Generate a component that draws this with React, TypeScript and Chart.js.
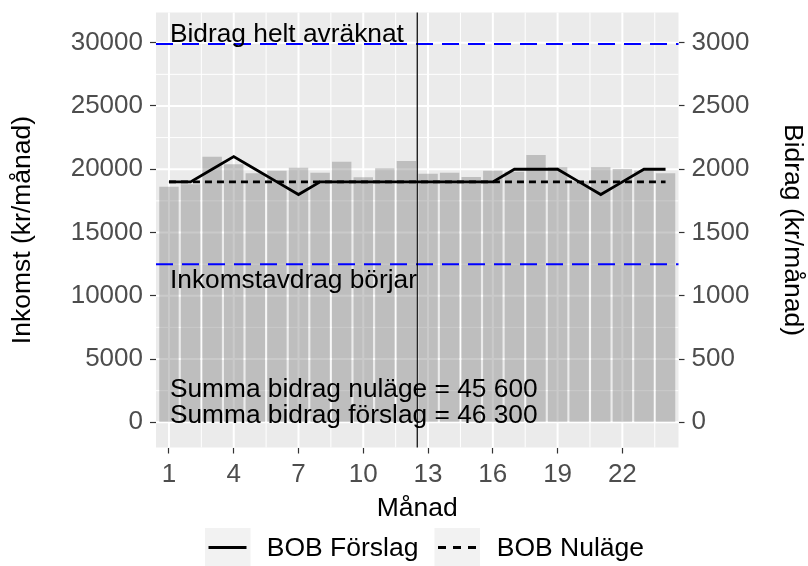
import { useEffect, useRef } from "react";
import { Chart, registerables } from "chart.js";

Chart.register(...registerables);

// ---- data ----
const months = [1, 2, 3, 4, 5, 6, 7, 8, 9, 10, 11, 12, 13, 14, 15, 16, 17, 18, 19, 20, 21, 22, 23, 24];
const income = [
  18620, 18810, 20990, 20390, 19680, 19880, 20120, 19730, 20600, 19360, 20070, 20650,
  19650, 19730, 19390, 19880, 19800, 21120, 20150, 19050, 20150, 20020, 19890, 19680,
];
const bobForslag = [
  1900, 1900, 2000, 2100, 2000, 1900, 1800, 1900, 1900, 1900, 1900, 1900,
  1900, 1900, 1900, 1900, 2000, 2000, 2000, 1900, 1800, 1900, 2000, 2000,
];
const bobNulage = [
  1900, 1900, 1900, 1900, 1900, 1900, 1900, 1900, 1900, 1900, 1900, 1900,
  1900, 1900, 1900, 1900, 1900, 1900, 1900, 1900, 1900, 1900, 1900, 1900,
];
const leftTicks = [0, 5000, 10000, 15000, 20000, 25000, 30000];
const rightTicks = [0, 500, 1000, 1500, 2000, 2500, 3000];
const monthTicks = [1, 4, 7, 10, 13, 16, 19, 22];
const thresholdUpper = 29900;
const thresholdLower = 12500;
const splitMonth = 12.5;
const labelUpper = "Bidrag helt avräknat";
const labelLower = "Inkomstavdrag börjar";
const sumLines = ["Summa bidrag nuläge = 45 600", "Summa bidrag förslag = 46 300"];
const legendLabels = ["BOB Förslag", "BOB Nuläge"];

const FONT = "'Liberation Sans', Arial, Helvetica, sans-serif";
const Y_MIN = -1992;
const Y_MAX = 32386;
const X_MIN = 0.4;
const X_MAX = 24.6;

function minorsOf(ticks: number[], lo: number, hi: number) {
  const step = ticks[1] - ticks[0];
  const out: number[] = [];
  for (const t of ticks) {
    for (const m of [t - step / 2, t + step / 2]) {
      if (m > lo && m < hi && !out.includes(m)) out.push(m);
    }
  }
  return out;
}

const panelPlugin = {
  id: "ggpanel",
  beforeDatasetsDraw(chart: any) {
    const { ctx, chartArea: a, scales } = chart;
    const x = scales.x;
    const y = scales.y;
    ctx.save();
    ctx.fillStyle = "#EBEBEB";
    ctx.fillRect(a.left, a.top, a.right - a.left, a.bottom - a.top);
    ctx.strokeStyle = "#FFFFFF";
    ctx.lineWidth = 1;
    for (const v of minorsOf(leftTicks, Y_MIN, Y_MAX)) {
      const p = y.getPixelForValue(v);
      ctx.beginPath(); ctx.moveTo(a.left, p); ctx.lineTo(a.right, p); ctx.stroke();
    }
    for (const v of minorsOf(monthTicks, X_MIN, X_MAX)) {
      const p = x.getPixelForValue(v);
      ctx.beginPath(); ctx.moveTo(p, a.top); ctx.lineTo(p, a.bottom); ctx.stroke();
    }
    ctx.lineWidth = 2;
    for (const v of leftTicks) {
      const p = y.getPixelForValue(v);
      ctx.beginPath(); ctx.moveTo(a.left, p); ctx.lineTo(a.right, p); ctx.stroke();
    }
    for (const v of monthTicks) {
      const p = x.getPixelForValue(v);
      ctx.beginPath(); ctx.moveTo(p, a.top); ctx.lineTo(p, a.bottom); ctx.stroke();
    }
    ctx.restore();
  },
  afterDatasetsDraw(chart: any) {
    const { ctx, chartArea: a, scales } = chart;
    const x = scales.x;
    const y = scales.y;
    ctx.save();
    ctx.strokeStyle = "#0000FF";
    ctx.lineWidth = 2;
    ctx.setLineDash([17, 9]);
    for (const v of [thresholdUpper, thresholdLower]) {
      const p = y.getPixelForValue(v);
      ctx.beginPath(); ctx.moveTo(a.left, p); ctx.lineTo(a.right, p); ctx.stroke();
    }
    ctx.setLineDash([]);
    ctx.strokeStyle = "#000000";
    ctx.lineWidth = 1.2;
    const vx = x.getPixelForValue(splitMonth);
    ctx.beginPath(); ctx.moveTo(vx, a.top); ctx.lineTo(vx, a.bottom); ctx.stroke();
    ctx.fillStyle = "#000000";
    ctx.font = `26.3px ${FONT}`;
    ctx.textAlign = "left";
    ctx.textBaseline = "alphabetic";
    const tx = x.getPixelForValue(1) + 1;
    ctx.fillText(labelUpper, tx, y.getPixelForValue(thresholdUpper) - 2);
    ctx.fillText(labelLower, tx, y.getPixelForValue(thresholdLower) + 24);
    const y0 = y.getPixelForValue(0);
    ctx.fillText(sumLines[0], tx, y0 - 25);
    ctx.fillText(sumLines[1], tx, y0 + 1);
    ctx.restore();
  },
  afterDraw(chart: any) {
    const { ctx } = chart;
    ctx.save();
    const boxes = [205, 434.5];
    const texts = [266.7, 496.7];
    const cy = 547.5;
    for (let i = 0; i < 2; i++) {
      ctx.fillStyle = "#F2F2F2";
      ctx.fillRect(boxes[i], 528, 45.5, 38);
      ctx.strokeStyle = "#000000";
      ctx.lineWidth = 2.8;
      ctx.setLineDash(i === 0 ? [] : [8, 7]);
      ctx.beginPath();
      ctx.moveTo(boxes[i] + 3.5, cy);
      ctx.lineTo(boxes[i] + 41.5, cy);
      ctx.stroke();
      ctx.setLineDash([]);
      ctx.fillStyle = "#000000";
      ctx.font = `26.5px ${FONT}`;
      ctx.textAlign = "left";
      ctx.textBaseline = "middle";
      ctx.fillText(legendLabels[i], texts[i], cy + 1);
    }
    ctx.restore();
  },
};

export default function App() {
  const ref = useRef<HTMLCanvasElement | null>(null);

  useEffect(() => {
    document.body.style.margin = "0";
    if (!ref.current) return;
    const tickGrid = {
      drawOnChartArea: false,
      drawTicks: true,
      offset: false,
      tickLength: 6,
      tickColor: "#333333",
      tickWidth: 1.2,
    };
    const tickFont = { family: FONT, size: 26 };
    const titleFont = { family: FONT, size: 26.5 };
    const zeroPad = (s: any) => {
      s.paddingTop = 0;
      s.paddingBottom = 0;
      s.paddingLeft = 0;
      s.paddingRight = 0;
    };

    const chart = new Chart(ref.current, {
      type: "bar",
      data: {
        datasets: [
          {
            type: "line",
            label: legendLabels[0],
            data: months.map((m, i) => ({ x: m, y: bobForslag[i] })),
            xAxisID: "x",
            yAxisID: "y2",
            borderColor: "#000000",
            borderWidth: 2.8,
            pointRadius: 0,
            tension: 0,
            order: 1,
          },
          {
            type: "line",
            label: legendLabels[1],
            data: months.map((m, i) => ({ x: m, y: bobNulage[i] })),
            xAxisID: "x",
            yAxisID: "y2",
            borderColor: "#000000",
            borderWidth: 2.8,
            borderDash: [7, 5],
            pointRadius: 0,
            tension: 0,
            order: 2,
          },
          {
            type: "bar",
            label: "Inkomst",
            data: months.map((m, i) => ({ x: m, y: income[i] })),
            xAxisID: "x",
            yAxisID: "y",
            backgroundColor: "rgba(128,128,128,0.42)",
            borderWidth: 0,
            barPercentage: 0.9,
            categoryPercentage: 1,
            order: 3,
          },
        ] as any,
      },
      options: {
        animation: false,
        responsive: true,
        maintainAspectRatio: false,
        layout: { padding: { top: 12.5, bottom: 41.4, left: 0, right: 0 } },
        plugins: {
          legend: { display: false },
          tooltip: { enabled: false },
        },
        scales: {
          x: {
            type: "linear",
            position: "bottom",
            offset: false,
            min: X_MIN,
            max: X_MAX,
            afterBuildTicks: (s: any) => {
              s.ticks = monthTicks.map((v) => ({ value: v }));
            },
            afterFit: (s: any) => {
              s.height = 77.1;
              zeroPad(s);
            },
            grid: tickGrid,
            border: { display: false },
            ticks: {
              color: "#4D4D4D",
              font: tickFont,
              padding: 6,
              maxRotation: 0,
              autoSkip: false,
              callback: (v: any) => String(v),
            },
            title: {
              display: true,
              text: "Månad",
              color: "#000000",
              font: titleFont,
              padding: 0,
            },
          },
          y: {
            type: "linear",
            position: "left",
            min: Y_MIN,
            max: Y_MAX,
            afterBuildTicks: (s: any) => {
              s.ticks = leftTicks.map((v) => ({ value: v }));
            },
            afterFit: (s: any) => {
              s.width = 156;
              zeroPad(s);
            },
            grid: tickGrid,
            border: { display: false },
            ticks: {
              color: "#4D4D4D",
              font: tickFont,
              padding: 7,
              callback: (v: any) => String(v),
            },
            title: {
              display: true,
              text: "Inkomst (kr/månad)",
              color: "#000000",
              font: titleFont,
              padding: { top: 6.5, bottom: 0 },
            },
          },
          y2: {
            type: "linear",
            position: "right",
            min: Y_MIN / 10,
            max: Y_MAX / 10,
            afterBuildTicks: (s: any) => {
              s.ticks = rightTicks.map((v) => ({ value: v }));
            },
            afterFit: (s: any) => {
              s.width = 129.5;
              zeroPad(s);
            },
            grid: tickGrid,
            border: { display: false },
            ticks: {
              color: "#4D4D4D",
              font: tickFont,
              padding: 7,
              callback: (v: any) => String(v),
            },
            title: {
              display: true,
              text: "Bidrag (kr/månad)",
              color: "#000000",
              font: titleFont,
              padding: 0,
            },
          },
        } as any,
      },
      plugins: [panelPlugin],
    });
    return () => chart.destroy();
  }, []);

  return (
    <div style={{ position: "relative", width: 808, height: 566 }}>
      <canvas ref={ref} />
    </div>
  );
}
